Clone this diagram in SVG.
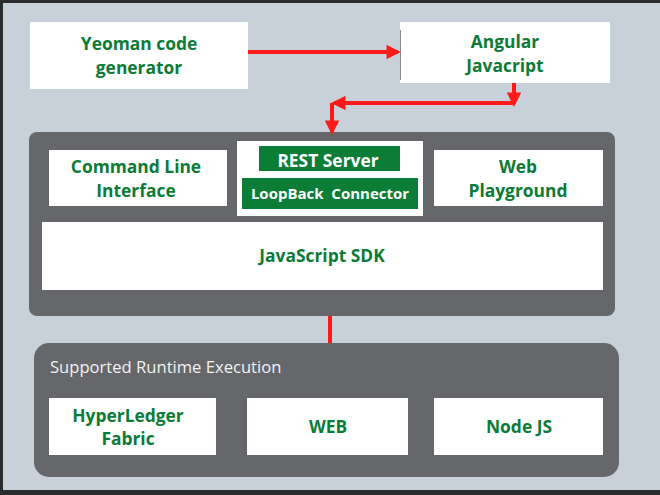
<svg xmlns="http://www.w3.org/2000/svg" width="660" height="495" viewBox="0 0 660 495">
<defs>
<style>
.t{font-family:"Open Sans","Liberation Sans",sans-serif;font-weight:700;fill:#0b7b37;text-anchor:middle;font-size:17.4px}
.w{fill:#ffffff}
.panel{fill:#65676b}
.g{fill:#0b7d36}
.c{stroke:#ff1a1a;stroke-width:4;fill:none}
.wt{font-family:"Open Sans","Liberation Sans",sans-serif;font-weight:700;fill:#ffffff;text-anchor:middle}
</style>
<marker id="ah" viewBox="0 0 10 10" refX="8" refY="5" markerWidth="3.6" markerHeight="3.6" orient="auto" markerUnits="strokeWidth">
<path d="M0,0 L10,5 L0,10 Z" fill="#ff1a1a"/>
</marker>
</defs>
<rect x="0" y="0" width="660" height="495" fill="#2a2b2c"/>
<rect x="3" y="3" width="657" height="487" fill="#c8d0d9"/>

<g id="yeoman">
<rect class="w" x="30" y="22" width="218" height="67"/>
<text class="t" x="139" y="50">Yeoman code</text>
<text class="t" x="139" y="74">generator</text>
</g>
<g id="angular">
<rect class="w" x="400" y="22" width="210" height="61"/>
<line x1="400.5" y1="30" x2="400.5" y2="80" stroke="#8a8d90" stroke-width="1"/>
<text class="t" x="505" y="48">Angular</text>
<text class="t" x="505" y="72">Javacript</text>
</g>

<g id="core-panel">
<rect class="panel" x="29" y="132" width="586" height="184" rx="8"/>
</g>
<g id="cli">
<rect class="w" x="49" y="150" width="178" height="56"/>
<text class="t" x="136" y="173">Command Line</text>
<text class="t" x="136" y="197">Interface</text>
</g>
<g id="rest">
<rect class="w" x="237" y="141" width="186" height="75"/>
<rect class="g" x="259" y="146" width="141" height="25"/>
<text class="wt" x="328" y="167" font-size="17.4">REST Server</text>
<rect class="g" x="242" y="178" width="176" height="31"/>
<text class="wt" x="330" y="199" font-size="15">LoopBack&#160; Connector</text>
</g>
<g id="web-playground">
<rect class="w" x="434" y="150" width="169" height="56"/>
<text class="t" x="518" y="173">Web</text>
<text class="t" x="518" y="197">Playground</text>
</g>
<g id="sdk">
<rect class="w" x="42" y="222" width="561" height="68"/>
<text class="t" x="322" y="262">JavaScript SDK</text>
</g>

<g id="runtime-panel">
<rect class="panel" x="34" y="343" width="585" height="134" rx="15"/>
<text x="50" y="373" font-family="'Open Sans','Liberation Sans',sans-serif" font-size="16.6" fill="#f2f2f2">Supported Runtime Execution</text>
</g>
<g id="hyperledger">
<rect class="w" x="49" y="398" width="167" height="57"/>
<text class="t" x="128" y="422">HyperLedger</text>
<text class="t" x="128" y="445">Fabric</text>
</g>
<g id="web">
<rect class="w" x="247" y="398" width="161" height="57"/>
<text class="t" x="328" y="433">WEB</text>
</g>
<g id="nodejs">
<rect class="w" x="434" y="398" width="169" height="57"/>
<text class="t" x="519" y="433">Node JS</text>
</g>

<g id="connectors">
<path class="c" d="M248,52 H398" marker-end="url(#ah)"/>
<path class="c" d="M514,83 V104" marker-end="url(#ah)"/>
<path class="c" d="M514,103 H334" marker-end="url(#ah)"/>
<path class="c" d="M332,103 V132" marker-end="url(#ah)"/>
<path class="c" d="M330,316 V343"/>
</g>
</svg>
